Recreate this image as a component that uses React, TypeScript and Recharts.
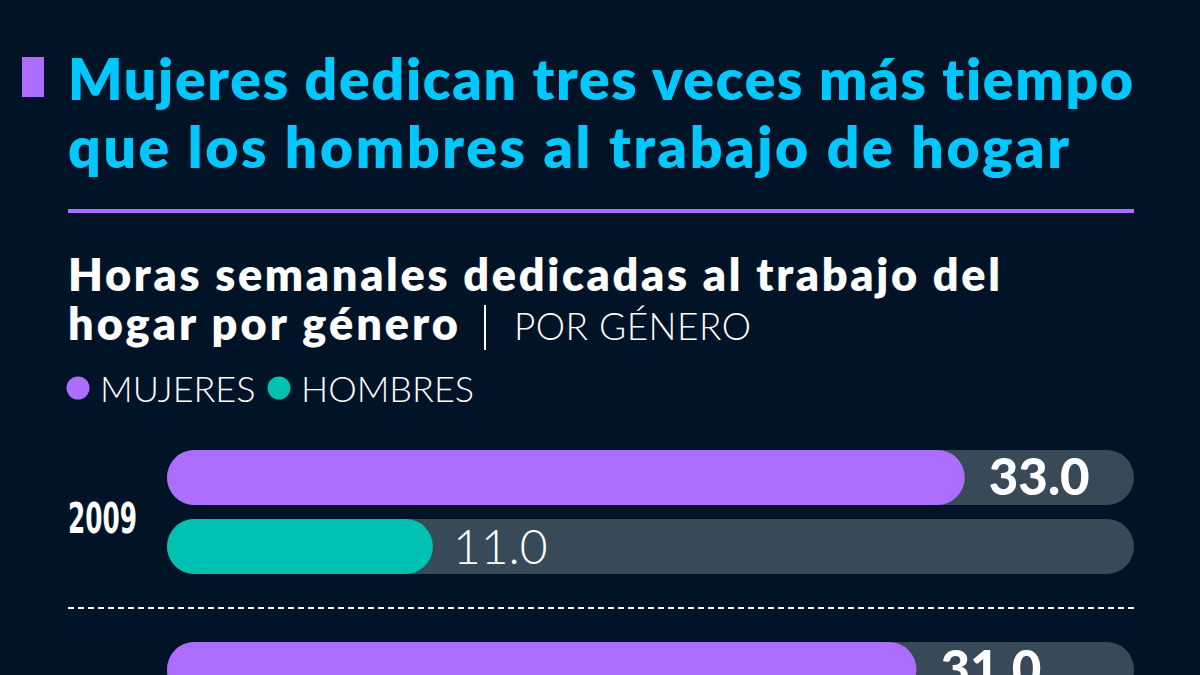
import React from 'react';
import { BarChart, Bar, XAxis, YAxis, LabelList } from 'recharts';

// ---- data ----
const years = ['2009', '2019'];
const mujeres = [33.0, 31.0];
const hombres = [11.0, 10.5]; // second value is off-screen in the reference (estimate)
const seriesKeys = ['mujeres', 'hombres'];
const seriesNames = ['MUJERES', 'HOMBRES'];
const seriesColors = ['#ad6dff', '#00c1b1'];
const axisDomain = [0, 40];

const titleLines = ['Mujeres dedican tres veces más tiempo', 'que los hombres al trabajo de hogar'];
const subtitleLines = ['Horas semanales dedicadas al trabajo del', 'hogar por género'];
const subtitleUnit = 'POR GÉNERO';

const data = years.map((y, i) => ({ year: y, mujeres: mujeres[i], hombres: hombres[i] }));

// ---- styles ----
const BG = '#011427';
const CYAN = '#00c8ff';
const PURPLE = '#ad6dff';
const TRACK = '#384957';
const FONT = 'Lato, "Open Sans", sans-serif';
const COND = '"Liberation Sans Narrow", "DejaVu Sans Condensed", sans-serif';
const NOLIG: React.CSSProperties = { fontVariantLigatures: 'none', fontFeatureSettings: '"liga" 0, "clig" 0' };

const CHART_W = 1200;
const CHART_H = 800;
const MARGIN = { top: 416, right: 66, bottom: 0, left: 0 };
const PLOT_RIGHT = CHART_W - MARGIN.right;

const YearTick = (props: any) => {
  const { x, y, payload, index } = props;
  const bandHalf = payload && payload.offset ? payload.offset : 0;
  return (
    <g>
      {index > 0 && (
        <line
          x1={68}
          x2={PLOT_RIGHT}
          y1={y - bandHalf}
          y2={y - bandHalf}
          stroke="#ffffff"
          strokeWidth={2}
          strokeDasharray="6 4"
        />
      )}
      <text
        x={x}
        y={y + 21}
        textAnchor="end"
        fill="#ffffff"
        fontFamily={COND}
        fontWeight={700}
        fontSize={43}
        textLength={69}
        lengthAdjust="spacingAndGlyphs"
      >
        {payload.value}
      </text>
    </g>
  );
};

const makeValueLabel = (bold: boolean) => (props: any) => {
  const { x, y, width, height, value } = props;
  if (value == null) return null;
  return (
    <text
      x={x + width + (bold ? 24 : 20)}
      y={y + height / 2 + 17}
      fill="#ffffff"
      fontFamily={FONT}
      fontWeight={bold ? 900 : 300}
      fontSize={bold ? 51 : 48}
      style={{ fontFamily: FONT }}
    >
      {Number(value).toFixed(1)}
    </text>
  );
};

export default function App() {
  return (
    <div
      style={{
        position: 'fixed',
        top: 0,
        left: 0,
        width: 1200,
        height: 675,
        overflow: 'hidden',
        background: BG,
      }}
    >
      <svg width={1200} height={675} style={{ position: 'absolute', top: 0, left: 0 }}>
        <rect x={22} y={57} width={22} height={40} fill={PURPLE} />
        <text x={68} y={100} fill={CYAN} fontFamily={FONT} fontWeight={800} fontSize={57}
          textLength={1065} lengthAdjust="spacing" style={NOLIG}>
          {titleLines[0]}
        </text>
        <text x={68} y={168} fill={CYAN} fontFamily={FONT} fontWeight={800} fontSize={57}
          textLength={1001} lengthAdjust="spacing" style={NOLIG}>
          {titleLines[1]}
        </text>
        <rect x={68} y={209} width={1066} height={4} fill={PURPLE} />
        <text x={68} y={291} fill="#ffffff" fontFamily={FONT} fontWeight={800} fontSize={45}
          textLength={932} lengthAdjust="spacing" style={NOLIG}>
          {subtitleLines[0]}
        </text>
        <text x={68} y={340} fill="#ffffff" fontFamily={FONT} fontWeight={800} fontSize={45}
          textLength={390} lengthAdjust="spacing" style={NOLIG}>
          {subtitleLines[1]}
        </text>
        <rect x={484} y={305} width={2} height={45} fill="#ffffff" />
        <text x={514} y={340} fill="#ffffff" fontFamily={FONT} fontWeight={300} fontSize={37}
          textLength={237} lengthAdjust="spacing">
          {subtitleUnit}
        </text>
        {seriesNames.map((n, i) => {
          const cx = i === 0 ? 78 : 279;
          return (
            <g key={n}>
              <circle cx={cx} cy={388} r={11.5} fill={seriesColors[i]} />
              <text x={cx + 22} y={402} fill="#ffffff" fontFamily={FONT} fontWeight={300} fontSize={36}>
                {n}
              </text>
            </g>
          );
        })}
      </svg>
      <div style={{ position: 'absolute', top: 0, left: 0 }}>
        <BarChart
          width={CHART_W}
          height={CHART_H}
          data={data}
          layout="vertical"
          margin={MARGIN}
          barSize={55}
          barGap={14}
        >
          <XAxis type="number" domain={axisDomain} hide />
          <YAxis
            type="category"
            dataKey="year"
            width={167}
            axisLine={false}
            tickLine={false}
            tickSize={0}
            tickMargin={30}
            tick={<YearTick />}
            interval={0}
          />
          {seriesKeys.map((k, i) => (
            <Bar
              key={k}
              dataKey={k}
              name={seriesNames[i]}
              fill={seriesColors[i]}
              radius={28}
              background={{ fill: TRACK, radius: 28 }}
              isAnimationActive={false}
            >
              <LabelList dataKey={k} content={makeValueLabel(i === 0)} />
            </Bar>
          ))}
        </BarChart>
      </div>
    </div>
  );
}
